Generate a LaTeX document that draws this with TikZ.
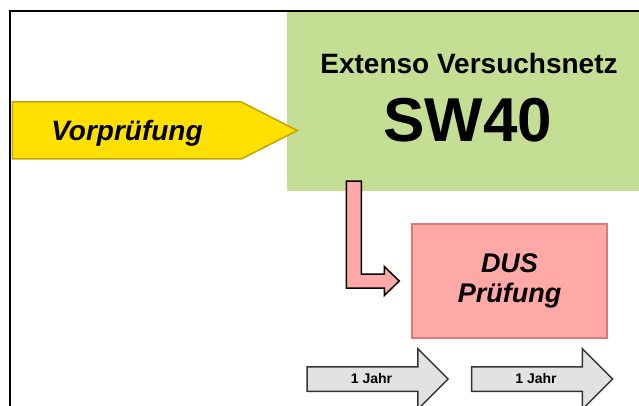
\documentclass[tikz,border=0pt]{standalone}
\usepackage{fontspec}
\setmainfont{Liberation Sans}
\usetikzlibrary{shapes.symbols,shapes.arrows}

\definecolor{netzgreen}{RGB}{196,223,148}
\definecolor{vorgelb}{RGB}{255,224,0}
\definecolor{vorgelbdark}{RGB}{196,166,0}
\definecolor{duspink}{RGB}{255,168,168}
\definecolor{duspinkdark}{RGB}{214,124,124}
\definecolor{jahrgray}{RGB}{226,226,226}

\tikzset{
	netzbox/.style={fill=netzgreen, minimum width=352pt, minimum height=179pt, inner sep=0pt},
	vorarrow/.style={signal, signal to=east, signal pointer angle=54, fill=vorgelb,
		draw=vorgelbdark, line width=1.5pt, minimum width=285pt, minimum height=57pt, inner sep=0pt},
	dusbox/.style={fill=duspink, draw=duspinkdark, line width=1.5pt, minimum width=195pt,
		minimum height=114pt, inner sep=0pt, align=center,
		font=\bfseries\itshape\fontsize{27}{30}\selectfont},
	jahrarrow/.style={single arrow, single arrow head extend=18pt, single arrow tip angle=90,
		fill=jahrgray, draw=black!80, line width=1.5pt, minimum height=141pt,
		text height=9pt, text depth=1pt, inner ysep=6.5pt, font=\bfseries\fontsize{14}{16}\selectfont},
	knick/.style={fill=duspink, draw=black, line width=1.5pt, line join=miter}
}

\begin{document}
\begin{tikzpicture}[x=1pt, y=-1pt]
	\useasboundingbox (0,0) rectangle (639,406);
	% Rahmen
	\draw[line width=2pt] (10,407) -- (10,11.5) -- (640,11.5);

	\node[netzbox] (netz) at (463,101.5) {};
	\node[font=\bfseries\fontsize{28}{34}\selectfont, anchor=base] (netztitel) at (469,74) {Extenso Versuchsnetz};
	\node[font=\bfseries\fontsize{62}{70}\selectfont, anchor=base] (netzcode) at (468,142) {SW40};

	\node[vorarrow, anchor=west] (vorp) at (11.5,130.5) {};
	\node[font=\bfseries\itshape\fontsize{28}{32}\selectfont, anchor=base] (vorptext) at (127,141) {Vorprüfung};

	\node[dusbox] (dus) at (509.5,281) {DUS\\Prüfung};

	% Knickpfeil vom Versuchsnetz zur DUS
	\path (dus.west) ++(-12,0) coordinate (knickspitze);
	\draw[knick] (knickspitze) -- ++(-15,-14.5) -- ++(0,7.5) -- ++(-23,0) -- ++(0,-93)
		-- ++(-15,0) -- ++(0,107) -- ++(38,0) -- ++(0,7.5) -- cycle;

	\node[jahrarrow] (jahr1) at (371.5,379) {1 Jahr};
	\node[jahrarrow] (jahr2) at (536,379) {1 Jahr};
\end{tikzpicture}
\end{document}
